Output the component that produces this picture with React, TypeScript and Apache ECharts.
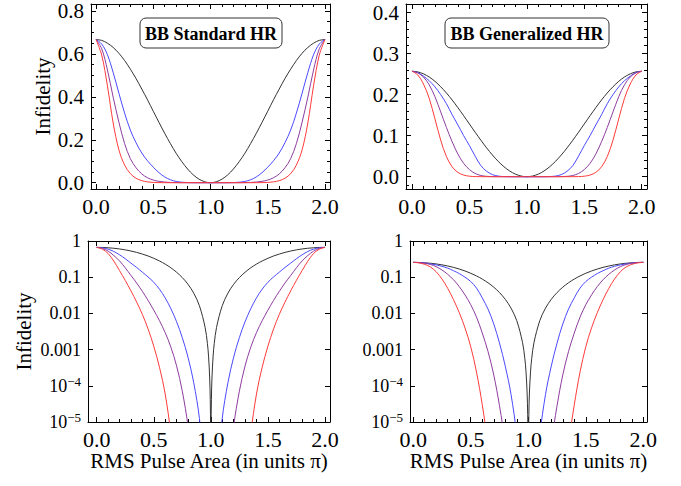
import React, { useEffect, useRef } from "react";
import * as echarts from "echarts";

const SERIF = '"Liberation Serif", "Times New Roman", serif';

// RMS pulse area (units of pi)
const pulseArea = [
  0, 0.05, 0.1, 0.15, 0.2, 0.25, 0.3, 0.35, 0.4, 0.45,
  0.5, 0.55, 0.6, 0.65, 0.7, 0.75, 0.8, 0.85, 0.9, 0.95,
  0.97, 0.98, 0.99, 0.995, 0.998, 1, 1.002, 1.005, 1.01, 1.02,
  1.03, 1.05, 1.1, 1.15, 1.2, 1.25, 1.3, 1.35, 1.4, 1.45,
  1.5, 1.55, 1.6, 1.65, 1.7, 1.75, 1.8, 1.85, 1.9, 1.95,
  2,
];

// BB Standard HR
const stdBlack = [
  0.667, 0.663, 0.65, 0.63, 0.603, 0.569, 0.529, 0.485, 0.436, 0.386,
  0.333, 0.281, 0.23, 0.182, 0.137, 0.0976, 0.0637, 0.0363, 0.0163, 0.0041,
  0.00148, 0.00066, 0.000164, 0.000041, 0.0000066, 0, 0.0000066, 0.000041, 0.000164, 0.00066,
  0.00148, 0.0041, 0.0163, 0.0363, 0.0637, 0.0976, 0.137, 0.182, 0.23, 0.281,
  0.333, 0.386, 0.436, 0.485, 0.529, 0.569, 0.603, 0.63, 0.65, 0.663,
  0.667,
];
const stdBlue = [
  0.667, 0.646, 0.596, 0.513, 0.417, 0.324, 0.245, 0.186, 0.138, 0.102,
  0.0724, 0.0468, 0.0269, 0.0135, 0.00589, 0.00214, 0.000617, 0.000123, 0.0000126, 0.00000026,
  1e-8, 1e-9, 0, 0, 0, 0, 0, 0, 0, 1e-9,
  1e-8, 0.00000026, 0.0000126, 0.000123, 0.000617, 0.00214, 0.00589, 0.0135, 0.0269, 0.0468,
  0.0724, 0.102, 0.138, 0.186, 0.245, 0.324, 0.417, 0.513, 0.596, 0.646,
  0.667,
];
const stdPurple = [
  0.667, 0.624, 0.525, 0.398, 0.282, 0.182, 0.112, 0.0692, 0.0407, 0.0229,
  0.0123, 0.00631, 0.00295, 0.00117, 0.000355, 0.000071, 0.0000079, 0.0000004, 1e-8, 0,
  0, 0, 0, 0, 0, 0, 0, 0, 0, 0,
  0, 0, 1e-8, 0.0000004, 0.0000079, 0.000071, 0.000355, 0.00117, 0.00295, 0.00631,
  0.0123, 0.0229, 0.0407, 0.0692, 0.112, 0.182, 0.282, 0.398, 0.525, 0.624,
  0.667,
];
const stdRed = [
  0.667, 0.594, 0.451, 0.278, 0.153, 0.082, 0.0421, 0.0206, 0.00942, 0.00375,
  0.00124, 0.000327, 0.0000594, 0.00000494, 0.00000025, 1e-8, 0, 0, 0, 0,
  0, 0, 0, 0, 0, 0, 0, 0, 0, 0,
  0, 0, 0, 0, 0, 1e-8, 0.00000025, 0.00000494, 0.0000594, 0.000327,
  0.00124, 0.00375, 0.00942, 0.0206, 0.0421, 0.082, 0.153, 0.278, 0.451, 0.594,
  0.667,
];

// BB Generalized HR
const genBlack = [
  0.257, 0.2555, 0.2507, 0.243, 0.2325, 0.2193, 0.204, 0.1869, 0.1682, 0.1486,
  0.1285, 0.1084, 0.0888, 0.0702, 0.053, 0.0376, 0.0245, 0.014, 0.00629, 0.00158,
  0.00057, 0.000254, 0.000063, 0.000016, 0.0000025, 0, 0.0000025, 0.000016, 0.000063, 0.000254,
  0.00057, 0.00158, 0.00629, 0.014, 0.0245, 0.0376, 0.053, 0.0702, 0.0888, 0.1084,
  0.1285, 0.1486, 0.1682, 0.1869, 0.204, 0.2193, 0.2325, 0.243, 0.2507, 0.2555,
  0.257,
];
const genBlue = [
  0.257, 0.254, 0.245, 0.234, 0.219, 0.2, 0.178, 0.151, 0.126, 0.1,
  0.0759, 0.0501, 0.0269, 0.0132, 0.0051, 0.00151, 0.00035, 0.000058, 0.0000043, 0.0000001,
  1e-8, 1e-9, 0, 0, 0, 0, 0, 0, 0, 1e-9,
  1e-8, 0.0000001, 0.0000043, 0.000058, 0.00035, 0.00151, 0.0051, 0.0132, 0.0269, 0.0501,
  0.0759, 0.1, 0.126, 0.151, 0.178, 0.2, 0.219, 0.234, 0.245, 0.254,
  0.257,
];
const genPurple = [
  0.257, 0.253, 0.243, 0.224, 0.195, 0.158, 0.12, 0.0851, 0.055, 0.0324,
  0.0174, 0.0079, 0.00288, 0.00089, 0.0002, 0.000028, 0.0000025, 0.0000001, 1e-9, 0,
  0, 0, 0, 0, 0, 0, 0, 0, 0, 0,
  0, 0, 1e-9, 0.0000001, 0.0000025, 0.000028, 0.0002, 0.00089, 0.00288, 0.0079,
  0.0174, 0.0324, 0.055, 0.0851, 0.12, 0.158, 0.195, 0.224, 0.243, 0.253,
  0.257,
];
const genRed = [
  0.257, 0.248, 0.226, 0.191, 0.141, 0.0891, 0.049, 0.024, 0.0105, 0.00398,
  0.0012, 0.00024, 0.00003, 0.0000024, 0.0000001, 1e-9, 0, 0, 0, 0,
  0, 0, 0, 0, 0, 0, 0, 0, 0, 0,
  0, 0, 0, 0, 0, 1e-9, 0.0000001, 0.0000024, 0.00003, 0.00024,
  0.0012, 0.00398, 0.0105, 0.024, 0.049, 0.0891, 0.141, 0.191, 0.226, 0.248,
  0.257,
];

const COLORS = ["#333333", "#4a4aff", "#8e3c9e", "#ff3a3a"];
const LOG_FLOOR = 1e-9;
const THRESHOLD = 1e-4;
const LOG_TICK_EXP = [0, -1, -2, -3, -4, -5];
const LOG_TICK_TEXT = ["1", "0.1", "0.01", "0.001", "{b|10}{s|\u22124}", "{b|10}{s|\u22125}"];
const TITLES = ["BB Standard HR", "BB Generalized HR"];
const Y_NAME = "Infidelity";
const X_NAME = "RMS Pulse Area (in units \u03c0)";

type Panel = {
  grid: { left: number; top: number; width: number; height: number };
  x: [number, number];
  log: boolean;
  y?: [number, number];
  yStep?: number;
  yMinor?: number;
  data: number[][];
  yName: boolean;
  yNameGap?: number;
  xName: boolean;
};

const panels: Panel[] = [
  {
    grid: { left: 91, top: 4, width: 239, height: 185 },
    x: [-0.0437, 2.0437], log: false, y: [-0.0294, 0.8326], yStep: 0.2, yMinor: 4,
    data: [stdBlack, stdBlue, stdPurple, stdRed], yName: true, yNameGap: 38, xName: false,
  },
  {
    grid: { left: 406, top: 4, width: 241, height: 185 },
    x: [-0.052, 2.046], log: false, y: [-0.03, 0.421], yStep: 0.1, yMinor: 5,
    data: [genBlack, genBlue, genPurple, genRed], yName: false, xName: false,
  },
  {
    grid: { left: 88, top: 241, width: 242, height: 181 },
    x: [-0.076, 2.044], log: true,
    data: [stdBlack, stdBlue, stdPurple, stdRed], yName: true, yNameGap: 54, xName: true,
  },
  {
    grid: { left: 410, top: 241, width: 237, height: 181 },
    x: [-0.028, 2.032], log: true,
    data: [genBlack, genBlue, genPurple, genRed], yName: false, xName: true,
  },
];

const lineBlack = { color: "#000", width: 1 };
const textBase = { fontFamily: SERIF, fontSize: 21, color: "#000" };
const tickText = { fontFamily: SERIF, fontSize: 22, color: "#000" };
const logTickText = { fontFamily: SERIF, fontSize: 18, color: "#000" };

function stepFormatter(step: number) {
  return (v: number) => {
    const k = v / step;
    return Math.abs(k - Math.round(k)) < 1e-6 ? Number(v).toFixed(1) : "";
  };
}

function buildOption() {
  const xAxis: any[] = [];
  const yAxis: any[] = [];
  const series: any[] = [];
  panels.forEach((p, i) => {
    const xBase = {
      type: "value",
      gridIndex: i,
      min: p.x[0],
      max: p.x[1],
      minInterval: 0.5,
      maxInterval: 0.5,
      axisLine: { show: true, onZero: false, lineStyle: lineBlack },
      axisTick: { show: true, inside: true, length: 5, lineStyle: lineBlack },
      minorTick: { show: true, splitNumber: 5, length: 3, lineStyle: lineBlack },
      splitLine: { show: false },
    };
    xAxis.push({
      ...xBase,
      position: "bottom",
      axisLabel: { ...tickText, show: true, margin: 6, formatter: stepFormatter(0.5) },
      name: p.xName ? X_NAME : "",
      nameLocation: "middle",
      nameGap: 28,
      nameTextStyle: { ...textBase },
    });
    xAxis.push({ ...xBase, position: "top", axisLabel: { show: false } });

    let yBase: any;
    if (p.log) {
      yBase = {
        type: "log",
        logBase: 10,
        gridIndex: i,
        min: 1e-5,
        max: 1,
        axisLine: { show: true, onZero: false, lineStyle: lineBlack },
        axisTick: { show: true, inside: true, length: 5, lineStyle: lineBlack },
        minorTick: { show: false },
        splitLine: { show: false },
      };
    } else {
      yBase = {
        type: "value",
        gridIndex: i,
        min: p.y![0],
        max: p.y![1],
        minInterval: p.yStep,
        maxInterval: p.yStep,
        axisLine: { show: true, onZero: false, lineStyle: lineBlack },
        axisTick: { show: true, inside: true, length: 5, lineStyle: lineBlack },
        minorTick: { show: true, splitNumber: p.yMinor, length: 3, lineStyle: lineBlack },
        splitLine: { show: false },
      };
    }
    const yLabel = p.log
      ? {
          ...logTickText,
          show: true,
          margin: 7,
          formatter: (v: number) => {
            const idx = LOG_TICK_EXP.indexOf(Math.round(Math.log10(v)));
            return idx >= 0 ? LOG_TICK_TEXT[idx] : "";
          },
          rich: {
            b: { ...logTickText, lineHeight: 22 },
            s: { fontFamily: SERIF, fontSize: 13, color: "#000", verticalAlign: "top", lineHeight: 13 },
          },
        }
      : { ...tickText, fontSize: 21, show: true, margin: 7, formatter: stepFormatter(p.yStep!) };
    yAxis.push({
      ...yBase,
      position: "left",
      axisLabel: yLabel,
      name: p.yName ? Y_NAME : "",
      nameLocation: "middle",
      nameRotate: 90,
      nameGap: p.yNameGap ?? 40,
      nameTextStyle: { ...textBase },
    });
    yAxis.push({ ...yBase, position: "right", axisLabel: { show: false } });

    p.data.forEach((arr, k) => {
      const s: any = {
        type: "line",
        xAxisIndex: 2 * i,
        yAxisIndex: 2 * i,
        data: pulseArea.map((x, j) => [x, p.log ? Math.max(arr[j], LOG_FLOOR) : arr[j]]),
        showSymbol: false,
        symbol: "none",
        smooth: 0.35,
        clip: true,
        silent: true,
        z: 2 + k,
        lineStyle: { color: COLORS[k], width: 1 },
        itemStyle: { color: COLORS[k] },
      };
      if (p.log && k === 0) {
        s.markLine = {
          silent: true,
          symbol: "none",
          label: { show: false },
          lineStyle: { color: "#a8a8a8", type: [3, 3], width: 1 },
          data: [{ yAxis: THRESHOLD }],
        };
      }
      series.push(s);
    });
  });

  const titleBoxes = [
    { x: 140, y: 18, w: 142, h: 30 },
    { x: 445, y: 18, w: 164, h: 30 },
  ];
  const graphic: any[] = [];
  titleBoxes.forEach((b, i) => {
    graphic.push({
      type: "rect",
      z: 100,
      shape: { x: b.x, y: b.y, width: b.w, height: b.h, r: 6 },
      style: { fill: "#fff", stroke: "#333", lineWidth: 1 },
    });
    graphic.push({
      type: "text",
      z: 101,
      x: b.x + b.w / 2,
      y: b.y + b.h / 2 + 1,
      style: {
        text: TITLES[i],
        fontFamily: SERIF,
        fontSize: 18,
        fontWeight: "bold",
        fill: "#000",
        align: "center",
        verticalAlign: "middle",
        textAlign: "center",
        textVerticalAlign: "middle",
      },
    });
  });

  return {
    animation: false,
    backgroundColor: "#fff",
    grid: panels.map((p) => ({ ...p.grid, containLabel: false })),
    xAxis,
    yAxis,
    series,
    graphic,
  };
}

export default function App() {
  const ref = useRef<HTMLDivElement>(null);
  useEffect(() => {
    if (!ref.current) return;
    const chart = echarts.init(ref.current, undefined, { renderer: "svg" });
    chart.setOption(buildOption() as any);
    return () => chart.dispose();
  }, []);
  return (
    <div
      ref={ref}
      style={{ position: "absolute", left: 0, top: 0, width: 681, height: 486, background: "#fff" }}
    />
  );
}
